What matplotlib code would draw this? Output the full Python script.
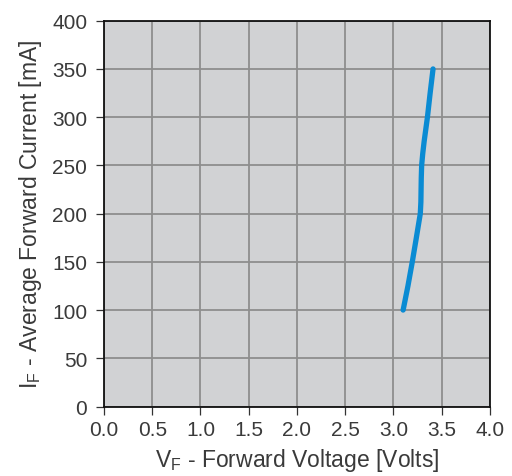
import matplotlib
matplotlib.use("Agg")
import matplotlib.pyplot as plt

# Data
current_mA = [100, 125, 150, 175, 200, 212, 225, 237, 250, 262, 275, 300, 325, 350]
voltage_V = [3.10, 3.15, 3.195, 3.237, 3.278, 3.284, 3.286, 3.288, 3.292, 3.303, 3.318, 3.352, 3.38, 3.41]

x_ticks = [0.0, 0.5, 1.0, 1.5, 2.0, 2.5, 3.0, 3.5, 4.0]
y_ticks = [0, 50, 100, 150, 200, 250, 300, 350, 400]

plt.rcParams['font.family'] = ['Liberation Sans', 'DejaVu Sans']
plt.rcParams['mathtext.fontset'] = 'custom'
plt.rcParams['mathtext.rm'] = 'Liberation Sans'

text_color = '#3a3a3a'

fig = plt.figure(figsize=(5.12, 4.77), dpi=100)
ax = fig.add_axes([0.203, 0.1457, 0.754, 0.8088])
ax.set_facecolor('#d1d2d4')

ax.plot(voltage_V, current_mA, color='#0a8bd3', lw=3.8, solid_capstyle='round',
        solid_joinstyle='round', zorder=3)

ax.set_xlim(0, 4)
ax.set_ylim(0, 400)
ax.set_xticks(x_ticks)
ax.set_xticklabels([f"{v:.1f}" for v in x_ticks])
ax.set_yticks(y_ticks)
ax.set_yticklabels([str(v) for v in y_ticks])

ax.grid(True, color='#8e8e8e', lw=1.3, zorder=1)
ax.set_axisbelow(True)

for s in ax.spines.values():
    s.set_color('#111111')
    s.set_linewidth(1.3)

ax.tick_params(axis='both', direction='out', length=6, width=0.9, color='#333333',
               labelsize=15, labelcolor=text_color)
ax.tick_params(axis='y', pad=6)
ax.tick_params(axis='x', pad=4)

ax.set_xlabel(r'V$_\mathregular{F}$ - Forward Voltage [Volts]', fontsize=16.5, color=text_color, labelpad=5)
ax.set_ylabel(r'I$_\mathregular{F}$ - Average Forward Current [mA]', fontsize=16.5, color=text_color, labelpad=6)

fig.savefig('out.png', dpi=100)
